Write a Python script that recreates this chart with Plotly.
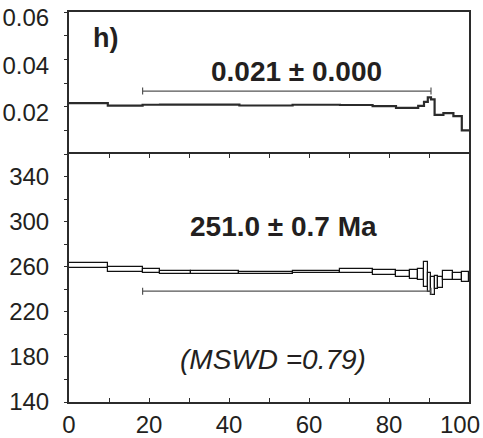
import plotly.graph_objects as go

# ---- data ----
step_bounds = [0, 9.7, 18.4, 22.75, 30.6, 42.6, 55.9, 67.75, 75.9, 81.75, 85.25,
               87.3, 88.75, 89.7, 90.5, 91.4, 92.3, 93.6, 96.1, 98.2, 100]
ratio_vals = [0.0215, 0.0204, 0.0208, 0.0209, 0.0209, 0.0205, 0.0208, 0.0207, 0.0202,
              0.0195, 0.0195, 0.0203, 0.0220, 0.0239, 0.0231, 0.0165, 0.0165, 0.0173,
              0.0160, 0.0100]
age_vals = [260.7, 257.5, 256.0, 254.8, 254.8, 254.6, 255.0, 256.3, 255.0, 253.5,
            253.0, 252.8, 253.2, 246.0, 243.0, 246.0, 246.0, 252.0, 251.3, 251.0]
age_errs = [2.2, 2.0, 2.0, 1.0, 1.0, 0.9, 1.0, 1.5, 2.0, 2.5,
            4.0, 4.8, 11.0, 8.3, 8.0, 5.5, 5.0, 4.0, 3.3, 4.5]
plateau_x = [18.4, 90.5]
ratio_plateau_level = 0.0266
age_plateau_level = 238.3
x_ticks = [0, 20, 40, 60, 80, 100]
x_tick_text = ["0", "20", "40", "60", "80", "100"]
ratio_ticks = [0.02, 0.04, 0.06]
ratio_tick_text = ["0.02", "0.04", "0.06"]
age_ticks = [140, 180, 220, 260, 300, 340]

TXT = "#231f20"
LN = "#2b2b2b"
FONT = "Liberation Sans, Arial, sans-serif"

fig = go.Figure()

# top panel: stepped ratio line
fig.add_trace(go.Scatter(
    x=step_bounds, y=ratio_vals + [ratio_vals[-1]],
    mode="lines", line=dict(shape="hv", color=LN, width=2.2),
    xaxis="x2", yaxis="y", showlegend=False, hoverinfo="skip"))

# top panel plateau bar
fig.add_trace(go.Scatter(
    x=plateau_x, y=[ratio_plateau_level] * 2, mode="lines+markers",
    line=dict(color="#555", width=1.2),
    marker=dict(symbol="line-ns", size=5, line=dict(color="#555", width=1.2)),
    xaxis="x2", yaxis="y", showlegend=False, hoverinfo="skip"))

# bottom panel: age spectrum boxes
centers = [(a + b) / 2 for a, b in zip(step_bounds[:-1], step_bounds[1:])]
widths = [b - a for a, b in zip(step_bounds[:-1], step_bounds[1:])]
fig.add_trace(go.Bar(
    x=centers, width=widths,
    base=[a - e for a, e in zip(age_vals, age_errs)],
    y=[2 * e for e in age_errs],
    marker=dict(color="white", line=dict(color="#111", width=1.2)),
    xaxis="x", yaxis="y2", showlegend=False, hoverinfo="skip"))

# bottom panel plateau bar
fig.add_trace(go.Scatter(
    x=plateau_x, y=[age_plateau_level] * 2, mode="lines+markers",
    line=dict(color="#555", width=1.2),
    marker=dict(symbol="line-ns", size=5, line=dict(color="#555", width=1.2)),
    xaxis="x", yaxis="y2", showlegend=False, hoverinfo="skip"))

axis_common = dict(showline=True, linecolor=LN, linewidth=2, showgrid=False,
                   zeroline=False, tickcolor=LN, ticklabeloverflow="allow",
                   automargin=False)

div = 248 / 390

# the last x label sits against the right edge: draw it as an annotation
axis_tick_text = x_tick_text[:-1] + [""]

fig.update_layout(
    width=483, height=438,
    margin=dict(l=69, r=14, t=12, b=36, autoexpand=False),
    paper_bgcolor="white", plot_bgcolor="white",
    font=dict(family=FONT, color=TXT),
    bargap=0,
    xaxis=dict(**axis_common, domain=[0, 1], anchor="y2", range=[0, 100],
               tickvals=x_ticks, ticktext=axis_tick_text, ticks="inside", ticklen=4,
               mirror="ticks", ticklabelstandoff=0,
               minor=dict(dtick=10, tick0=0, ticks="inside", ticklen=4, tickcolor=LN),
               tickfont=dict(size=24, color=TXT)),
    xaxis2=dict(**axis_common, domain=[0, 1], anchor="y", range=[0, 100], side="top",
                showticklabels=False, ticks="", mirror=False),
    yaxis=dict(**axis_common, domain=[div, 1], anchor="x2", range=[0, 0.06],
               tickvals=ratio_ticks, ticktext=ratio_tick_text, ticks="outside",
               ticklen=3, mirror=True, ticklabelstandoff=10, ticklabelshift=6,
               minor=dict(dtick=0.01, tick0=0, ticks="outside", ticklen=3, tickcolor=LN),
               tickfont=dict(size=24, color=TXT)),
    yaxis2=dict(**axis_common, domain=[0, div], anchor="x", range=[140, 360],
                tickvals=age_ticks, ticks="outside", ticklen=3, mirror=True,
                ticklabelstandoff=10, ticklabelshift=0,
                minor=dict(dtick=20, tick0=140, ticks="outside", ticklen=3, tickcolor=LN),
                tickfont=dict(size=24, color=TXT)),
    annotations=[
        dict(text=x_tick_text[-1], x=x_ticks[-1], y=0, xref="x", yref="paper",
             xanchor="right", yanchor="middle", xshift=13, yshift=-22,
             showarrow=False, font=dict(size=24, color=TXT)),
        dict(text="<b>h)</b>", x=9, y=0.049, xref="x2", yref="y", showarrow=False,
             font=dict(size=27, color=TXT)),
        dict(text="<b>0.021 ± 0.000</b>", x=56.9, y=0.035, xref="x2", yref="y",
             showarrow=False, font=dict(size=28, color=TXT)),
        dict(text="<b>251.0 ± 0.7 Ma</b>", x=53.5, y=296, xref="x", yref="y2",
             showarrow=False, font=dict(size=28, color=TXT)),
        dict(text="<i>(MSWD =0.79)</i>", x=51.0, y=178, xref="x", yref="y2",
             showarrow=False, font=dict(size=28, color=TXT)),
    ],
)

fig.write_html("out.html")
